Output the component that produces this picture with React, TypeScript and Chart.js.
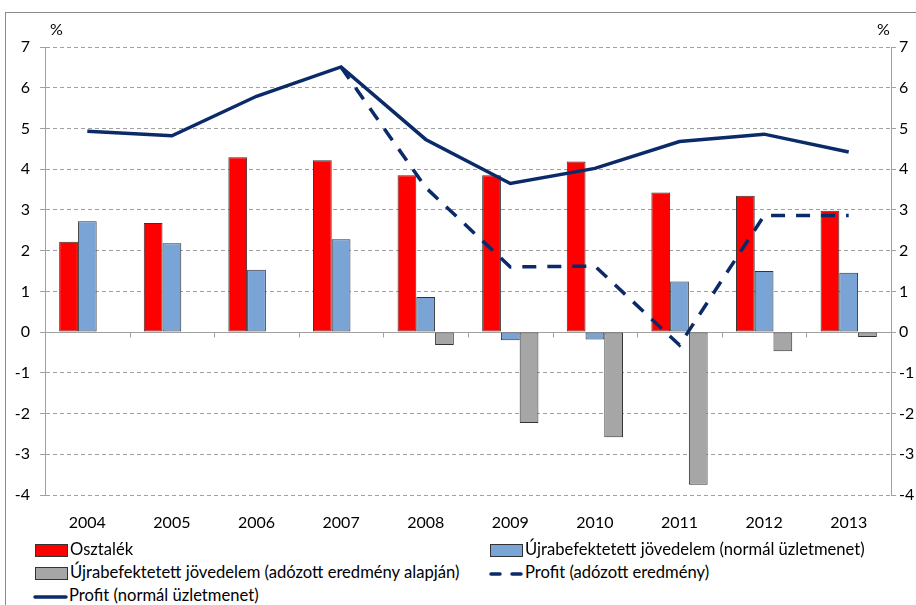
import React, { useEffect, useRef } from "react";
import { Chart, registerables } from "chart.js";

Chart.register(...registerables);

const years = ["2004", "2005", "2006", "2007", "2008", "2009", "2010", "2011", "2012", "2013"];
const osztalek = [2.22, 2.68, 4.29, 4.22, 3.85, 3.85, 4.19, 3.43, 3.35, 2.98];
const ujraNormal = [2.72, 2.18, 1.53, 2.28, 0.86, -0.2, -0.18, 1.24, 1.5, 1.46];
const ujraAdozott = [null, null, null, null, -0.32, -2.23, -2.58, -3.75, -0.47, -0.12];
const profitAdozott = [null, null, null, 6.5, 3.55, 1.6, 1.62, -0.32, 2.86, 2.86];
const profitNormal = [4.93, 4.82, 5.79, 6.51, 4.73, 3.65, 4.02, 4.68, 4.86, 4.42];
const yMin = -4;
const yMax = 7;
const unitLabel = "%";
const seriesNames = [
  "Osztalék",
  "Újrabefektetett jövedelem (normál üzletmenet)",
  "Újrabefektetett jövedelem (adózott eredmény alapján)",
  "Profit (adózott eredmény)",
  "Profit (normál üzletmenet)",
];

const RED = "#FF0000";
const BLUE = "#7BA4D6";
const GRAY = "#A6A6A6";
const NAVY = "#0B2A6A";
const AXIS = "#A0A0A0";
const FONT = "Lato, 'Liberation Sans', sans-serif";

const zeroLinePlugin = {
  id: "zeroLine",
  beforeDatasetsDraw(chart: any) {
    const { ctx, chartArea, scales } = chart;
    const y0 = scales.y.getPixelForValue(0);
    ctx.save();
    ctx.strokeStyle = AXIS;
    ctx.lineWidth = 1;
    ctx.setLineDash([]);
    ctx.beginPath();
    ctx.moveTo(chartArea.left, Math.round(y0) + 0.5);
    ctx.lineTo(chartArea.right, Math.round(y0) + 0.5);
    const n = years.length;
    const w = (chartArea.right - chartArea.left) / n;
    for (let i = 0; i <= n; i++) {
      const x = Math.round(chartArea.left + i * w) + 0.5;
      ctx.moveTo(x, Math.round(y0) + 0.5);
      ctx.lineTo(x, Math.round(y0) + 5.5);
    }
    ctx.stroke();
    ctx.restore();
  },
};

function barSet(label: string, data: (number | null)[], color: string) {
  return {
    type: "bar",
    label,
    data,
    backgroundColor: color,
    borderColor: "#333333",
    borderWidth: 1,
    borderSkipped: false,
    order: 1,
    categoryPercentage: 0.665,
    barPercentage: 1,
    yAxisID: "y",
  } as any;
}

function ChartCanvas() {
  const ref = useRef<HTMLCanvasElement | null>(null);
  useEffect(() => {
    if (!ref.current) return;
    const tickFont = { family: FONT, size: 16 };
    const chart = new Chart(ref.current, {
      type: "bar",
      data: {
        labels: years,
        datasets: [
          {
            type: "line",
            label: seriesNames[4],
            data: profitNormal,
            borderColor: NAVY,
            borderWidth: 3.5,
            pointRadius: 0,
            fill: false,
            order: 0,
            yAxisID: "y",
          } as any,
          {
            type: "line",
            label: seriesNames[3],
            data: profitAdozott,
            borderColor: NAVY,
            borderWidth: 3.5,
            borderDash: [14, 11],
            pointRadius: 0,
            fill: false,
            order: 0,
            yAxisID: "y",
          } as any,
          barSet(seriesNames[0], osztalek, RED),
          barSet(seriesNames[1], ujraNormal, BLUE),
          barSet(seriesNames[2], ujraAdozott, GRAY),
        ],
      },
      options: {
        animation: false,
        responsive: false,
        maintainAspectRatio: false,
        layout: { padding: { top: 47, left: 0, right: 0, bottom: 0 } },
        plugins: {
          legend: { display: false },
          tooltip: { enabled: false },
          title: { display: false },
        },
        scales: {
          x: {
            position: "bottom",
            grid: { display: false, drawTicks: false },
            border: { display: false },
            ticks: { font: tickFont, color: "#000", padding: 18, maxRotation: 0 },
            afterFit(scale: any) {
              scale.height = 45;
            },
          },
          y: {
            position: "left",
            min: yMin,
            max: yMax,
            ticks: { stepSize: 1, font: tickFont, color: "#000", padding: 10 },
            grid: {
              color: AXIS,
              lineWidth: 1,
              tickLength: 5,
              tickColor: AXIS,
              drawTicks: true,
            },
            border: { display: true, color: AXIS, width: 1, dash: [4, 3] },
            afterFit(scale: any) {
              scale.width = 45;
            },
          },
          y2: {
            position: "right",
            min: yMin,
            max: yMax,
            ticks: { stepSize: 1, font: tickFont, color: "#000", padding: 3 },
            grid: {
              drawOnChartArea: false,
              tickLength: 5,
              tickColor: AXIS,
              color: AXIS,
            },
            border: { display: true, color: AXIS, width: 1 },
            afterFit(scale: any) {
              scale.width = 49;
            },
          },
        },
      } as any,
      plugins: [zeroLinePlugin],
    });
    return () => chart.destroy();
  }, []);
  return <canvas ref={ref} width={940} height={540} style={{ position: "absolute", left: 0, top: 0, width: 940, height: 540 }} />;
}

function Swatch({ color }: { color: string }) {
  return (
    <span
      style={{
        display: "inline-block",
        width: 33,
        height: 13,
        background: color,
        border: "1px solid #333",
        boxSizing: "border-box",
        marginRight: 2,
        verticalAlign: "middle",
      }}
    />
  );
}

function LineSample({ dashed }: { dashed: boolean }) {
  return (
    <svg width={35} height={12} style={{ verticalAlign: "middle", marginRight: 1 }}>
      <line
        x1={2}
        y1={6}
        x2={33}
        y2={6}
        stroke={NAVY}
        strokeWidth={3.5}
        strokeDasharray={dashed ? "9 12" : undefined}
        strokeLinecap="round"
      />
    </svg>
  );
}

export default function App() {
  const textStyle: React.CSSProperties = {
    position: "absolute",
    fontFamily: FONT,
    fontSize: 16.6,
    color: "#000",
    whiteSpace: "nowrap",
    lineHeight: "20px",
  };
  return (
    <div
      style={{
        position: "fixed",
        left: 0,
        top: 0,
        width: 916,
        height: 605,
        overflow: "hidden",
        background: "#fff",
      }}
    >
      <div
        style={{
          position: "absolute",
          left: 5,
          top: 12,
          width: 1000,
          height: 1000,
          border: "1px solid #8A8A8A",
        }}
      />
      <ChartCanvas />
      <div style={{ ...textStyle, fontSize: 16, left: 50, top: 19 }}>{unitLabel}</div>
      <div style={{ ...textStyle, fontSize: 16, left: 877, top: 19 }}>{unitLabel}</div>
      <div style={{ ...textStyle, left: 35, top: 539 }}>
        <Swatch color={RED} />
        {seriesNames[0]}
      </div>
      <div style={{ ...textStyle, left: 490, top: 539 }}>
        <Swatch color={BLUE} />
        {seriesNames[1]}
      </div>
      <div style={{ ...textStyle, left: 35, top: 562 }}>
        <Swatch color={GRAY} />
        {seriesNames[2]}
      </div>
      <div style={{ ...textStyle, left: 489, top: 562 }}>
        <LineSample dashed={true} />
        {seriesNames[3]}
      </div>
      <div style={{ ...textStyle, left: 33, top: 585 }}>
        <LineSample dashed={false} />
        {seriesNames[4]}
      </div>
    </div>
  );
}
